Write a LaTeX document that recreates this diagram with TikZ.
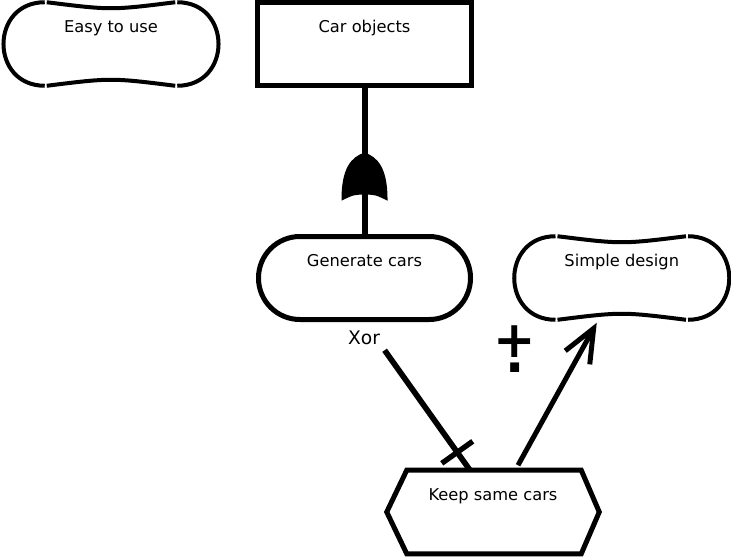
\documentclass[tikz,border=0pt]{standalone}
\usepackage{fontspec}
\setmainfont{DejaVu Sans}
\usetikzlibrary{calc,arrows.meta,decorations.markings}

% outline of a soft goal, drawn round an empty node
\newcommand{\softshape}[1]{%
  \draw[softline] ($(#1.north west)+(42,0)$) .. controls ($(#1.north)+(0,8)$) .. ($(#1.north east)+(-42,0)$);
  \draw[softline] ($(#1.north east)+(-40,0)$) .. controls ($(#1.north east)+(15,0)$) and ($(#1.south east)+(15,0)$) .. ($(#1.south east)+(-40,0)$);
  \draw[softline] ($(#1.south east)+(-42,0)$) .. controls ($(#1.south)+(0,-8)$) .. ($(#1.south west)+(42,0)$);
  \draw[softline] ($(#1.south west)+(40,0)$) .. controls ($(#1.south west)+(-15,0)$) and ($(#1.north west)+(-15,0)$) .. ($(#1.north west)+(40,0)$);
}
% outline of a task (hexagon)
\newcommand{\taskshape}[1]{%
  \draw[taskline] (#1.west) -- ($(#1.north west)+(20,0)$) -- ($(#1.north east)+(-18,0)$) -- (#1.east)
    -- ($(#1.south east)+(-18,0)$) -- ($(#1.south west)+(20,0)$) -- cycle;
}

\tikzset{
  elem/.style={inner sep=0pt, minimum width=159pt, text height=22.5pt, text depth=39.75pt,
    font=\fontsize{12.2}{14}\selectfont},
  goal/.style={elem, draw, line width=3.75pt, rounded corners=31pt},
  resource/.style={elem, draw, line width=3.75pt, minimum width=160.5pt},
  softgoal/.style={elem},
  task/.style={elem},
  softline/.style={line width=3pt},
  taskline/.style={line width=3.75pt, line join=miter},
  deplink/.style={line width=4.5pt, postaction={decorate},
    decoration={markings, mark=at position 25pt with {%
      \fill (0,-17.25pt) .. controls (4.5pt,-8pt) .. (4.5pt,0pt) .. controls (4.5pt,8pt) .. (0,17.25pt)
        .. controls (24pt,17.5pt) and (33pt,10pt) .. (36pt,0pt)
        .. controls (33pt,-10pt) and (24pt,-17.5pt) .. (0,-17.25pt) -- cycle;}}},
  xorlink/.style={line width=4.25pt, shorten <=26pt, postaction={decorate},
    decoration={markings, mark=at position -16.5pt with {%
      \draw[line width=4pt, shorten <=0pt] (0,-14.25pt) -- (0,14.25pt);}}},
  helplink/.style={line width=3.75pt, -{Straight Barb[length=25pt,width=21pt]}},
  xorlbl/.style={inner sep=0pt, font=\fontsize{14}{16}\selectfont},
  helplbl/.style={inner sep=0pt, font=\fontsize{38}{38}\selectfont\bfseries},
}

\begin{document}
\begin{tikzpicture}[x=0.75pt, y=-0.75pt]
  \useasboundingbox (0,0) rectangle (731,557);

  % elements
  \node[softgoal] (ease) at (111,44) {Easy to use};
  \node[resource] (car) at (364.5,44) {Car objects};
  \node[goal] (gen) at (364.5,278) {Generate cars};
  \node[softgoal] (simple) at (621.75,278) {Simple design};
  \node[task] (keep) at (493,512) {Keep same cars};
  \softshape{ease}
  \softshape{simple}
  \taskshape{keep}

  % link ends
  \coordinate (keepxor) at ($(keep.north)+(-23,0)$);
  \coordinate (keephelp) at ($(keep.north)+(25,-5)$);
  \coordinate (simplehelp) at ($(simple.south)+(-25,3)$);

  % links
  \draw[deplink] (gen.north) -- (car.south);
  \draw[xorlink] (gen.south) -- (keepxor);
  \node[xorlbl] (xor) at (364,338) {Xor};
  \draw[helplink] (keephelp) -- (simplehelp);
  \node[helplbl, anchor=base] (help) at (515,357) {\ooalign{+\cr\hidewidth\raisebox{-11.5pt}{.}\hidewidth\cr}};
\end{tikzpicture}
\end{document}
